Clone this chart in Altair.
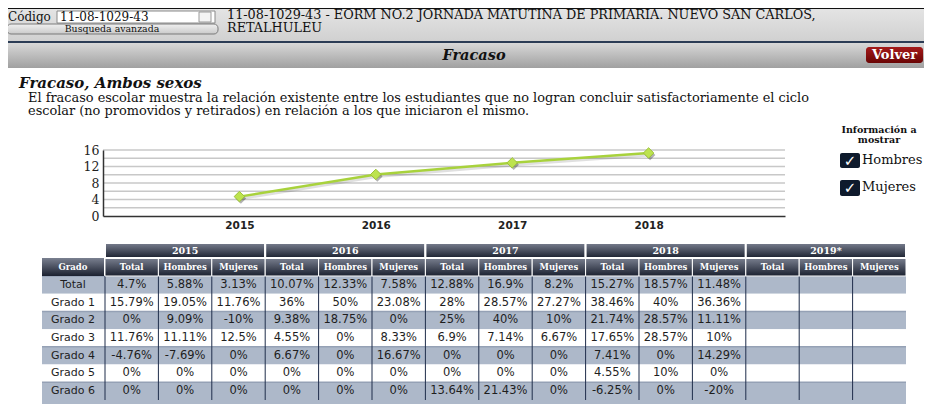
import altair as alt
import pandas as pd

# ---------------- data ----------------
years = ["2015", "2016", "2017", "2018", "2019*"]
measures = ["Total", "Hombres", "Mujeres"]
grados = ["Total", "Grado 1", "Grado 2", "Grado 3", "Grado 4", "Grado 5", "Grado 6"]

t2015_total = [4.7, 15.79, 0, 11.76, -4.76, 0, 0]
t2015_hombres = [5.88, 19.05, 9.09, 11.11, -7.69, 0, 0]
t2015_mujeres = [3.13, 11.76, -10, 12.5, 0, 0, 0]
t2016_total = [10.07, 36, 9.38, 4.55, 6.67, 0, 0]
t2016_hombres = [12.33, 50, 18.75, 0, 0, 0, 0]
t2016_mujeres = [7.58, 23.08, 0, 8.33, 16.67, 0, 0]
t2017_total = [12.88, 28, 25, 6.9, 0, 0, 13.64]
t2017_hombres = [16.9, 28.57, 40, 7.14, 0, 0, 21.43]
t2017_mujeres = [8.2, 27.27, 10, 6.67, 0, 0, 0]
t2018_total = [15.27, 38.46, 21.74, 17.65, 7.41, 4.55, -6.25]
t2018_hombres = [18.57, 40, 28.57, 28.57, 0, 10, 0]
t2018_mujeres = [11.48, 36.36, 11.11, 10, 14.29, 0, -20]

chart_years = [2015, 2016, 2017, 2018]
chart_total = [4.7, 10.07, 12.88, 15.27]
y_ticks = [0, 4, 8, 12, 16]
grid_vals = [2, 4, 6, 8, 10, 12, 14, 16]

series = {
    ("2015", "Total"): t2015_total, ("2015", "Hombres"): t2015_hombres, ("2015", "Mujeres"): t2015_mujeres,
    ("2016", "Total"): t2016_total, ("2016", "Hombres"): t2016_hombres, ("2016", "Mujeres"): t2016_mujeres,
    ("2017", "Total"): t2017_total, ("2017", "Hombres"): t2017_hombres, ("2017", "Mujeres"): t2017_mujeres,
    ("2018", "Total"): t2018_total, ("2018", "Hombres"): t2018_hombres, ("2018", "Mujeres"): t2018_mujeres,
}

keys = [f"{y} {m}" for y in years for m in measures]
rows = []
for (y, m), vals in series.items():
    for g, v in zip(grados, vals):
        rows.append({"key": f"{y} {m}", "grado": g, "value": v})
table_df = pd.DataFrame(rows)
keys_df = pd.DataFrame({"key": keys, "measure": [k.split(" ")[1] for k in keys]})
grados_df = pd.DataFrame({"grado": grados})
years_df = pd.DataFrame({"year": years})
line_df = pd.DataFrame({"year": chart_years, "total": chart_total})
grid_df = pd.DataFrame({"g": grid_vals})

# --------------- helpers (reference pixel space -> chart space) ---------------
OX, OY = 8, 8
one = alt.Data(values=[{"a": 1}])

def grad(c1, c2):
    return alt.Gradient(gradient="linear", x1=0, x2=0, y1=0, y2=1,
                        stops=[alt.GradientStop(color=c1, offset=0),
                               alt.GradientStop(color=c2, offset=1)])

def box(x1, y1, x2, y2, **kw):
    return alt.Chart(one).mark_rect(**kw).encode(
        x=alt.value(x1 - OX), x2=alt.value(x2 - OX),
        y=alt.value(y1 - OY), y2=alt.value(y2 - OY))

def label(x, y, txt, **kw):
    base = dict(font="DejaVu Serif", fontSize=12, color="#111", align="left", baseline="middle")
    base.update(kw)
    return alt.Chart(one).mark_text(text=txt, **base).encode(
        x=alt.value(x - OX), y=alt.value(y - OY))

# --------------- page chrome ---------------
chrome = [
    box(0, 9, 940, 42, fill=grad("#e4e4e4", "#d0d0d0")),
    box(0, 7, 940, 9, fill="#111"),
    box(0, 41, 940, 43, fill="#2b3c55"),
    box(0, 43, 940, 68, fill=grad("#d8d8d8", "#a0a0a0")),
    label(8, 17, "Código", fontSize=12),
    box(57, 11, 215, 23, fill="white", stroke="#8a8a8a", strokeWidth=1),
    label(60, 17, "11-08-1029-43", fontSize=12),
    box(199, 12, 211, 22, fill="#f4f4f4", stroke="#9a9a9a", strokeWidth=1),
    box(7, 24, 218, 34, fill=grad("#f0f0f0", "#cacaca"), stroke="#7a7a7a", strokeWidth=1, cornerRadius=4),
    label(112, 29, "Busqueda avanzada", fontSize=9.4, align="center"),
    label(227, 15, "11-08-1029-43 - EORM NO.2 JORNADA MATUTINA DE PRIMARIA. NUEVO SAN CARLOS,", fontSize=12.8),
    label(227, 28, "RETALHULEU", fontSize=12.8),
    label(474, 56, "Fracaso", fontSize=14.5, fontWeight="bold", fontStyle="italic", align="center"),
    box(866, 47, 923, 63, fill=grad("#a41a1a", "#6a0505"), cornerRadius=3),
    label(894.5, 55, "Volver", fontSize=13, fontWeight="bold", color="white", align="center"),
    label(19, 82.5, "Fracaso, Ambos sexos", fontSize=15, fontWeight="bold", fontStyle="italic"),
    label(28, 97.5, "El fracaso escolar muestra la relación existente entre los estudiantes que no logran concluir satisfactoriamente el ciclo", fontSize=12.9),
    label(28, 110.5, "escolar (no promovidos y retirados) en relación a los que iniciaron el mismo.", fontSize=12.9),
    label(879, 130, "Información a", fontSize=9.5, fontWeight="bold", align="center"),
    label(879, 139.5, "mostrar", fontSize=9.5, fontWeight="bold", align="center"),
    box(840, 153, 860, 168, fill="#0e1a2c", cornerRadius=2),
    label(850, 161, "✓", font="DejaVu Sans", fontSize=15, fontWeight="bold", color="white", align="center"),
    label(862, 160, "Hombres", fontSize=13),
    box(840, 180, 860, 196, fill="#0e1a2c", cornerRadius=2),
    label(850, 188, "✓", font="DejaVu Sans", fontSize=15, fontWeight="bold", color="white", align="center"),
    label(862, 187, "Mujeres", fontSize=13),
]

# --------------- line chart ---------------
xs = alt.Scale(domain=[2014, 2019], range=[103 - OX, 785 - OX], nice=False, zero=False)
ys = alt.Scale(domain=[0, 16], range=[216 - OY, 150 - OY], nice=False, zero=True)

xaxis = alt.Axis(values=chart_years, format="d", title=None, offset=-(396 - (216 - OY)),
                 ticks=False, grid=False, domainColor="#333", domainWidth=1.5, zindex=2,
                 labelFont="DejaVu Sans", labelFontWeight="bold", labelFontSize=10.5,
                 labelColor="#222", labelPadding=4)
yaxis = alt.Axis(values=y_ticks, title=None, offset=-(103 - OX), ticks=False, grid=False,
                 domainColor="#333", domainWidth=1.5, labelFont="DejaVu Serif", zindex=2,
                 labelFontSize=12.5, labelColor="#222", labelPadding=4)

line = alt.Chart(line_df).mark_line(color="#a8d23c", strokeWidth=2.5).encode(
    x=alt.X("year:Q", scale=xs, axis=xaxis), y=alt.Y("total:Q", scale=ys, axis=yaxis))
grid = alt.Chart(grid_df).mark_rule(color="#c8c8c8", strokeWidth=1.6).encode(
    y=alt.Y("g:Q", scale=ys, axis=None),
    x=alt.value(103 - OX), x2=alt.value(785 - OX))
shadow_line = alt.Chart(line_df).mark_line(color="#000", opacity=0.12, strokeWidth=3,
                                            xOffset=1, yOffset=2).encode(
    x=alt.X("year:Q", scale=xs, axis=None), y=alt.Y("total:Q", scale=ys, axis=None))
shadow_pts = alt.Chart(line_df).mark_point(shape="diamond", filled=True, size=110, color="#000",
                                           opacity=0.3, xOffset=1.5, yOffset=2).encode(
    x=alt.X("year:Q", scale=xs, axis=None), y=alt.Y("total:Q", scale=ys, axis=None))
pts = alt.Chart(line_df).mark_point(shape="diamond", filled=True, size=110, fill="#bde34e",
                                    stroke="#9cc23a", strokeWidth=1, opacity=1).encode(
    x=alt.X("year:Q", scale=xs, axis=None), y=alt.Y("total:Q", scale=ys, axis=None))

line_layers = [grid, shadow_line, line, shadow_pts, pts]

# --------------- table ---------------
kx = alt.Scale(domain=keys, range=[105 - OX, 906 - OX], paddingInner=0, paddingOuter=0)
gy = alt.Scale(domain=grados, range=[276 - OY, 400 - OY], paddingInner=0, paddingOuter=0)
grey_test = "indexof(['Total','Grado 2','Grado 4','Grado 6'], datum.grado) >= 0"
ROWGREY = "#adb8c9"

row_bg = alt.Chart(grados_df).mark_rect().encode(
    x=alt.value(42 - OX), x2=alt.value(906 - OX),
    y=alt.Y("grado:N", scale=gy, axis=None),
    fill=alt.condition(grey_test, alt.value(ROWGREY), alt.value("white")))
row_shade = alt.Chart(grados_df).transform_filter(grey_test).mark_rule(
    color="#95a1b5", strokeWidth=1.5).encode(
    x=alt.value(42 - OX), x2=alt.value(906 - OX),
    y=alt.Y("grado:N", scale=gy, axis=None, bandPosition=0))
bottom_bg = box(42, 400, 906, 420, fill=ROWGREY)

seps = alt.Chart(keys_df).mark_rule(color="#1f2d4a", strokeWidth=1).encode(
    x=alt.X("key:N", scale=kx, axis=None, bandPosition=0),
    y=alt.value(276 - OY), y2=alt.value(400 - OY))

values = alt.Chart(table_df).transform_calculate(
    lab="toString(datum.value) + '%'").mark_text(
    font="DejaVu Sans", fontSize=11.5, color="#1e1e1e", baseline="middle").encode(
    x=alt.X("key:N", scale=kx, axis=None),
    y=alt.Y("grado:N", scale=gy, axis=None),
    text="lab:N")

row_labels = alt.Chart(grados_df).mark_text(
    font="DejaVu Sans", fontSize=11, color="#1e1e1e", baseline="middle").encode(
    x=alt.value(73 - OX), y=alt.Y("grado:N", scale=gy, axis=None), text="grado:N")

HEAD = grad("#7a8090", "#1b2130")
col_head = alt.Chart(keys_df).mark_rect(fill=HEAD, stroke="white", strokeWidth=1).encode(
    x=alt.X("key:N", scale=kx, axis=None),
    y=alt.value(258 - OY), y2=alt.value(276 - OY))
col_head_txt = alt.Chart(keys_df).mark_text(
    font="DejaVu Serif", fontSize=8.5, fontWeight="bold", color="white", baseline="middle").encode(
    x=alt.X("key:N", scale=kx, axis=None), y=alt.value(267 - OY), text="measure:N")
grado_head = box(42, 258, 104, 276, fill=HEAD)
grado_head_txt = label(73, 267, "Grado", fontSize=8.5, fontWeight="bold", color="white", align="center")

table = alt.layer(row_bg, row_shade, bottom_bg, seps, values, row_labels,
                  col_head, col_head_txt, grado_head, grado_head_txt)

yx = alt.Scale(domain=years, range=[105 - OX, 906 - OX], paddingInner=0, paddingOuter=0)
year_head = alt.Chart(years_df).mark_rect(fill=HEAD, stroke="white", strokeWidth=2).encode(
    x=alt.X("year:N", scale=yx, axis=None),
    y=alt.value(243 - OY), y2=alt.value(258 - OY))
year_head_txt = alt.Chart(years_df).mark_text(
    font="DejaVu Serif", fontSize=9.5, fontWeight="bold", color="white", baseline="middle").encode(
    x=alt.X("year:N", scale=yx, axis=None), y=alt.value(250.5 - OY), text="year:N")
year_header = alt.layer(year_head, year_head_txt)

chart = alt.layer(*chrome, *line_layers, table, year_header).resolve_scale(
    x="independent", y="independent"
).properties(
    width=916, height=396, padding=0,
    autosize=alt.AutoSizeParams(type="none"),
    background="white",
).configure_view(stroke=None)

chart.save("out.html", embed_options={"renderer": "svg", "actions": False})
